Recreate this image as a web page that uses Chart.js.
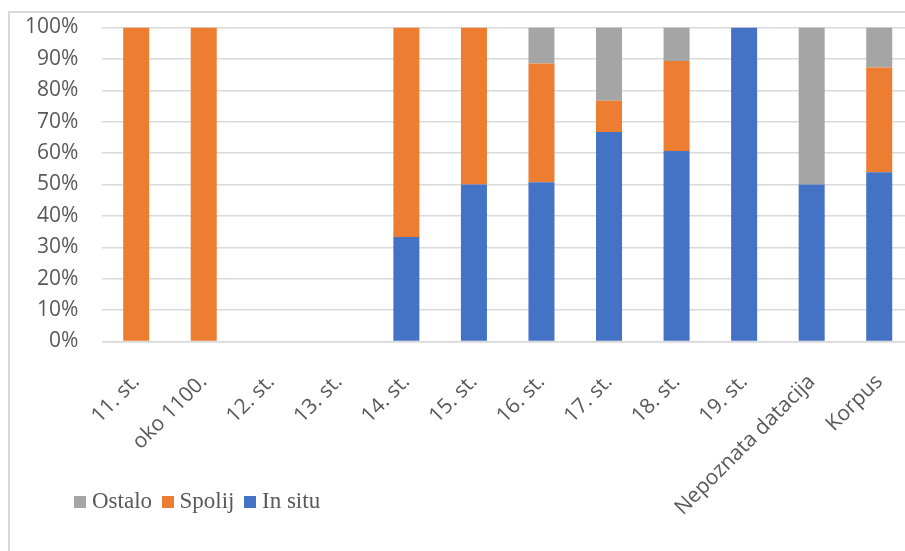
<!DOCTYPE html>
<html><head><meta charset="utf-8">
<script src="https://cdn.jsdelivr.net/npm/chart.js@4/dist/chart.umd.min.js"></script>
<style>
html,body{margin:0;padding:0;overflow:hidden;background:#fff;width:905px;height:551px;}
#box{position:absolute;left:8px;top:11px;border:2px solid #d9d9d9;width:905px;height:545px;}
canvas{display:block;}
</style></head><body>
<div id="box"><canvas id="c" width="905" height="545"></canvas></div>
<script>
const categories = ['11. st.', 'oko 1100.', '12. st.', '13. st.', '14. st.', '15. st.', '16. st.', '17. st.', '18. st.', '19. st.', 'Nepoznata datacija', 'Korpus'];
const inSitu = [0, 0, 0, 0, 33.3, 50, 50.7, 66.7, 60.7, 100, 50, 53.9];
const spolij = [100, 100, 0, 0, 66.7, 50, 37.8, 10, 28.6, 0, 0, 33.4];
const ostalo = [0, 0, 0, 0, 0, 0, 11.5, 23.3, 10.7, 0, 50, 12.7];
const yTicks = [0, 10, 20, 30, 40, 50, 60, 70, 80, 90, 100];

const seriesNames = ['In situ', 'Spolij', 'Ostalo'];
const seriesColors = ['#4472C4', '#ED7D31', '#A5A5A5'];
const seriesData = [inSitu, spolij, ostalo];

function swatch(color) {
  const c = document.createElement('canvas');
  c.width = 12; c.height = 12;
  const g = c.getContext('2d');
  g.fillStyle = color; g.fillRect(0, 0, 12, 12);
  return c;
}
const swatches = seriesColors.map(swatch);

const CANVAS_H = 545;
const legendPlace = {
  id: 'legendPlace',
  afterLayout(chart) {
    const xs = chart.scales.x;
    if (xs) xs.bottom = CANVAS_H;
    const lg = chart.legend;
    if (!lg) return;
    const w = lg.width, h = lg.height;
    lg.left = 54.5; lg.right = lg.left + w;
    lg.top = 462.5; lg.bottom = lg.top + h;
  }
};

new Chart(document.getElementById('c'), {
  type: 'bar',
  data: {
    labels: categories,
    datasets: seriesNames.map((n, i) => ({
      label: n,
      data: seriesData[i],
      backgroundColor: seriesColors[i],
      borderWidth: 0,
      barPercentage: 0.385,
      categoryPercentage: 1
    }))
  },
  plugins: [legendPlace],
  options: {
    responsive: false,
    animation: false,
    devicePixelRatio: 1,
    layout: { padding: { left: 0, right: 2, top: 14.5, bottom: 0 } },
    scales: {
      x: {
        stacked: true,
        grid: { display: false, drawTicks: false },
        border: { display: true, color: '#d9d9d9', width: 1.5 },
        ticks: {
          color: '#595959',
          font: { family: '"Open Sans"', size: 21 },
          minRotation: 45, maxRotation: 45, autoSkip: false, padding: 28
        },
        afterFit: s => {
          const lh = s.chart.legend ? s.chart.legend.height : 0;
          s.height = 216.5 - lh;
          s.paddingLeft = 0; s.paddingRight = 0;
        }
      },
      y: {
        stacked: true,
        min: 0, max: 100,
        grid: { color: '#d9d9d9', lineWidth: 1.5, drawTicks: false },
        border: { display: false },
        afterBuildTicks: s => { s.ticks = yTicks.map(v => ({ value: v })); },
        ticks: {
          color: '#595959',
          font: { family: '"Open Sans"', size: 21 },
          padding: 24,
          callback: v => v + '%'
        },
        afterFit: s => { s.width = 92.4; s.paddingTop = 12; s.paddingBottom = 12; }
      }
    },
    plugins: {
      tooltip: { enabled: false },
      legend: {
        position: 'bottom',
        align: 'start',
        reverse: true,
        labels: {
          color: '#595959',
          font: { family: '"Liberation Serif"', size: 23 },
          usePointStyle: true,
          boxWidth: 1,
          boxHeight: 12,
          padding: 15,
          generateLabels: chart => {
            const items = Chart.defaults.plugins.legend.labels.generateLabels(chart);
            items.forEach(it => { it.pointStyle = swatches[it.datasetIndex]; });
            return items;
          }
        }
      }
    }
  }
});
</script>
</body></html>
